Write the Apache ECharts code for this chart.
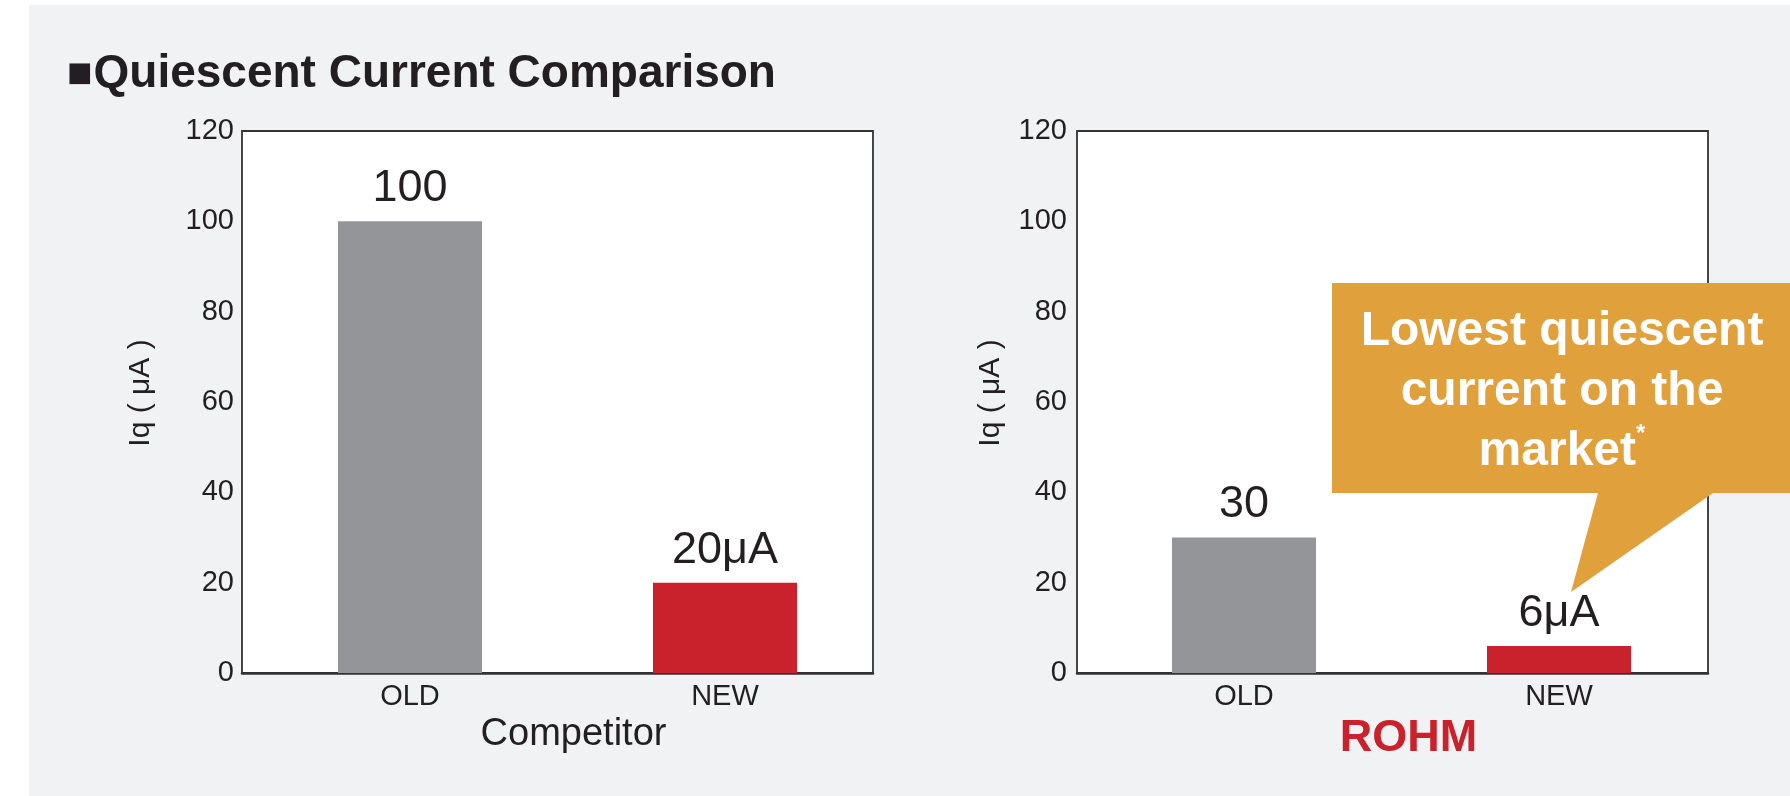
<!DOCTYPE html>
<html>
<head>
<meta charset="utf-8">
<script src="https://cdn.jsdelivr.net/npm/echarts@6/dist/echarts.min.js"></script>
<style>
  html, body { margin: 0; padding: 0; background: #ffffff; }
  #panel { position: absolute; left: 29px; top: 5px; right: 0; bottom: 0; background: #f1f2f4; }
  #chart { position: absolute; left: 0; top: 0; width: 1790px; height: 796px; }
</style>
</head>
<body>
<div id="panel"></div>
<div id="chart"></div>
<script>
// ---- data ----
const categories = ['OLD', 'NEW'];
const competitorIq = [100, 20];
const rohmIq = [30, 6];
const competitorLabels = ['100', '20μA'];
const rohmLabels = ['30', '6μA'];
const groupNames = ['Competitor', 'ROHM'];
const yMin = 0, yMax = 120, yStep = 20;
const yAxisName = 'Iq ( μA )';
const titleText = 'Quiescent Current Comparison';
const calloutLines = ['Lowest quiescent', 'current on the', 'market'];

// ---- styles ----
const FONT = '"Liberation Sans", Arial, Helvetica, sans-serif';
const TXT = '#231f20';
const barColors = ['#949599', '#c9222c'];
const ROHM_RED = '#c9222c';
const CALLOUT = '#e0a03c';

const chart = echarts.init(document.getElementById('chart'));

function frameGrid(left) {
  return { left: left, top: 131, width: 631, height: 542, show: true,
           backgroundColor: '#ffffff', borderColor: '#333333', borderWidth: 1.8 };
}
function barGrid(left) {
  return { left: left, top: 131, width: 630, height: 542 };
}
function frameX(gi) {
  return { gridIndex: gi, type: 'category', data: categories,
    axisLine: { lineStyle: { color: '#333333', width: 2.5 } },
    axisTick: { show: false }, axisLabel: { show: false } };
}
function barX(gi, name, nameStyle, gap) {
  return { gridIndex: gi, type: 'category', data: categories,
    axisLine: { show: false }, axisTick: { show: false },
    axisLabel: { fontSize: 29, color: TXT, fontFamily: FONT, margin: 9 },
    name: name, nameLocation: 'middle', nameGap: gap, nameTextStyle: nameStyle };
}
function frameY(gi, margin, gap) {
  return { gridIndex: gi, type: 'value', min: yMin, max: yMax, interval: yStep,
    axisLine: { show: false }, axisTick: { show: false }, splitLine: { show: false },
    axisLabel: { fontSize: 29, color: TXT, fontFamily: FONT, margin: margin },
    name: yAxisName, nameLocation: 'middle', nameGap: gap,
    nameTextStyle: { fontSize: 30, color: TXT, fontFamily: FONT, padding: [0, 0, 0, 18] } };
}
function barY(gi) {
  return { gridIndex: gi, type: 'value', min: yMin, max: yMax, show: false };
}
function barSeries(xi, values, labels) {
  return { type: 'bar', xAxisIndex: xi, yAxisIndex: xi, barWidth: 144,
    data: values.map((v, i) => ({ value: v, itemStyle: { color: barColors[i] } })),
    label: { show: true, position: 'top', distance: 10, fontSize: 45, lineHeight: 45,
      color: TXT, fontFamily: FONT, formatter: p => labels[p.dataIndex] },
    silent: true, animation: false };
}

const option = {
  animation: false,
  title: {
    left: 62, top: 44,
    text: '{sq|■}{t|' + titleText + '}',
    textStyle: {
      rich: {
        sq: { fontSize: 27, fontFamily: '"DejaVu Sans", sans-serif', color: TXT, lineHeight: 50, padding: [0, 1, 0, 0] },
        t: { fontSize: 46, fontWeight: 'bold', fontFamily: FONT, color: TXT, lineHeight: 50 }
      }
    }
  },
  grid: [frameGrid(242), barGrid(252.5), frameGrid(1077), barGrid(1086.5)],
  xAxis: [
    frameX(0),
    barX(1, groupNames[0], { fontSize: 38, color: TXT, fontFamily: FONT, padding: [0, 0, 0, 12] }, 34),
    frameX(2),
    barX(3, groupNames[1], { fontSize: 45, color: ROHM_RED, fontWeight: 'bold', fontFamily: FONT, padding: [0, 0, 0, 14] }, 29)
  ],
  yAxis: [frameY(0, 8, 86), barY(1), frameY(2, 10, 71), barY(3)],
  series: [
    barSeries(1, competitorIq, competitorLabels),
    barSeries(3, rohmIq, rohmLabels)
  ],
  graphic: [
    {
      type: 'polygon', z: 100, silent: true,
      shape: { points: [[1332, 283], [1790, 283], [1790, 493], [1713, 493], [1571, 592], [1598, 493], [1332, 493]] },
      style: { fill: CALLOUT }
    },
    {
      type: 'text', z: 101, silent: true, x: 1562, y: 302,
      style: {
        text: '{a|' + calloutLines[0] + '}\n{a|' + calloutLines[1] + '}\n{a|' + calloutLines[2] + '}{s|*}',
        align: 'center', verticalAlign: 'top',
        rich: {
          a: { fontSize: 48, fontWeight: 'bold', fontFamily: FONT, fill: '#ffffff', lineHeight: 60 },
          s: { fontSize: 24, fontWeight: 'bold', fontFamily: FONT, fill: '#ffffff', lineHeight: 60, verticalAlign: 'top', padding: [0, 0, 22, 0] }
        }
      }
    }
  ]
};
chart.setOption(option);
</script>
</body>
</html>
